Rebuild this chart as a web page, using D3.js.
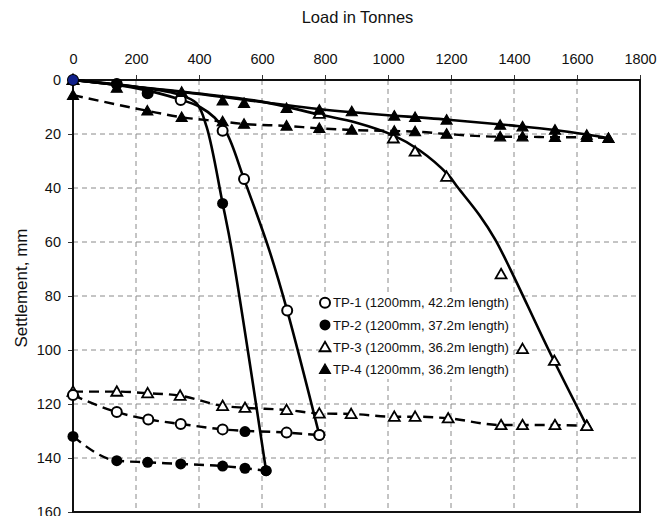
<!DOCTYPE html>
<html>
<head>
<meta charset="utf-8">
<script src="https://cdn.jsdelivr.net/npm/d3@7"></script>
<style>
  html, body { margin: 0; padding: 0; background: #fff; }
  svg { display: block; font-family: "Liberation Sans", Arial, sans-serif; }
</style>
</head>
<body>
<svg id="chart" width="662" height="516"></svg>
<script>
// ---------- data ----------
const xTicks = [0, 200, 400, 600, 800, 1000, 1200, 1400, 1600, 1800];
const yTicks = [0, 20, 40, 60, 80, 100, 120, 140, 160];

// TP-1 (open circles)
const tp1LoadUp   = [0, 139, 237, 342, 475, 543, 680, 782];
const tp1SettleUp = [0, 1.5, 4.9, 7.4, 18.8, 36.7, 85.4, 131.5];
const tp1LoadDn   = [782, 678, 475, 342, 239, 139, 0];
const tp1SettleDn = [131.5, 130.6, 129.4, 127.4, 125.7, 123, 116.7];
const tp1FitLoad   = [0, 200, 340, 403, 450, 488, 543, 623, 680, 782];
const tp1FitSettle = [0, 3, 7.2, 10, 14, 19.7, 36.7, 63, 85.4, 131.5];

// TP-2 (filled circles)
const tp2LoadUp   = [0, 139, 237, 475, 613];
const tp2SettleUp = [0, 1.5, 4.9, 45.7, 144.7];
const tp2LoadDn   = [613, 546, 475, 342, 237, 139, 0];
const tp2SettleDn = [144.7, 143.8, 143, 142.2, 141.6, 141, 132];
const tp2FitLoad   = [0, 200, 340, 392, 424, 475, 504, 613];
const tp2FitSettle = [0, 2.5, 5.5, 8.6, 17.3, 45.7, 63, 144.7];
const tp2ExtraLoad   = [546];
const tp2ExtraSettle = [130.2];

// TP-3 (open triangles)
const tp3LoadUp   = [0, 782, 1017, 1086, 1186, 1359, 1427, 1528, 1631];
const tp3SettleUp = [0, 12.5, 21.6, 26.5, 35.8, 71.9, 99.6, 104, 128.1];
const tp3LoadDn   = [1631, 1530, 1427, 1359, 1191, 1086, 1020, 883, 782, 678, 546, 475, 340, 237, 139, 0];
const tp3SettleDn = [128.1, 127.8, 127.8, 127.8, 125.3, 124.7, 124.7, 123.7, 123.5, 122.2, 121.4, 120.7, 116.9, 116, 115.4, 115.4];
const tp3FitLoad   = [0, 200, 400, 600, 782, 900, 1017, 1100, 1190, 1223, 1290, 1340, 1390, 1510, 1631];
const tp3FitSettle = [0, 2.5, 5, 8, 12.8, 15.8, 20.5, 26, 35, 40, 50, 59, 70.5, 100, 128.1];

// TP-4 (filled triangles)
const tp4LoadUp   = [0, 139, 345, 475, 543, 678, 782, 885, 1020, 1086, 1186, 1356, 1427, 1530, 1631, 1700];
const tp4SettleUp = [0, 3, 4.5, 7.7, 8.6, 10.5, 11.1, 11.7, 13.3, 13.8, 14.8, 16.7, 17.3, 18.5, 20.4, 21.6];
const tp4LoadDn   = [1700, 1631, 1530, 1427, 1356, 1186, 1086, 1020, 885, 782, 678, 543, 475, 345, 236, 0];
const tp4SettleDn = [21.6, 21.2, 21.2, 21, 21, 20, 19.1, 18.9, 18.5, 17.9, 17, 16.3, 15.4, 13.8, 11.4, 5.6];
const tp4FitLoad   = [0, 400, 800, 1200, 1400, 1530, 1631, 1700];
const tp4FitSettle = [0, 5.2, 11, 14.8, 16.9, 18.5, 20.2, 21.6];

const originLoad = [0], originSettle = [0];

const legendLabels = [
  "TP-1 (1200mm, 42.2m length)",
  "TP-2 (1200mm, 37.2m length)",
  "TP-3 (1200mm, 36.2m length)",
  "TP-4 (1200mm, 36.2m length)"
];
const legendMarkers = ["circleOpen", "circleFilled", "triOpen", "triFilled"];

// ---------- layout ----------
const svg = d3.select("#chart");
const L = 73, R = 640, T = 80, B = 512;
const x = d3.scaleLinear().domain([0, 1800]).range([L, R]);
const y = d3.scaleLinear().domain([0, 160]).range([T, B]);

const zip = (a, b) => a.map((v, i) => [v, b[i]]);

// grid
const grid = svg.append("g");
grid.selectAll("line.v").data(xTicks.filter(d => d > 0 && d < 1800)).join("line")
  .attr("x1", d => x(d)).attr("x2", d => x(d)).attr("y1", T).attr("y2", B)
  .attr("stroke", "#8a8a8a").attr("stroke-width", 1).attr("stroke-dasharray", "5,4");
grid.selectAll("line.h").data(yTicks.filter(d => d > 0 && d < 160)).join("line")
  .attr("x1", L).attr("x2", R).attr("y1", d => y(d)).attr("y2", d => y(d))
  .attr("stroke", "#8a8a8a").attr("stroke-width", 1).attr("stroke-dasharray", "5,4");

// axes
const ax = svg.append("g").attr("transform", `translate(0,${T})`)
  .call(d3.axisTop(x).tickValues(xTicks).tickSize(5).tickPadding(11).tickFormat(d3.format("d")));
const ay = svg.append("g").attr("transform", `translate(${L},0)`)
  .call(d3.axisLeft(y).tickValues(yTicks).tickSize(5).tickPadding(7).tickFormat(d3.format("d")));
[ax, ay].forEach(g => {
  g.select(".domain").remove();
  g.selectAll("text").attr("font-size", 14.5).attr("fill", "#111").attr("font-family", "Liberation Sans, Arial, sans-serif");
  g.selectAll("line").attr("stroke", "#333");
});

// frame
svg.append("rect").attr("x", L).attr("y", T).attr("width", R - L).attr("height", B - T)
  .attr("fill", "none").attr("stroke", "#111").attr("stroke-width", 2);

// titles
svg.append("text").attr("x", (L + R) / 2 + 1).attr("y", 23).attr("text-anchor", "middle")
  .attr("font-size", 16.5).attr("fill", "#111").text("Load in Tonnes");
svg.append("text").attr("transform", "translate(27,288) rotate(-90)").attr("text-anchor", "middle")
  .attr("font-size", 17).attr("fill", "#111").text("Settlement, mm");

// lines
const line = d3.line().x(d => x(d[0])).y(d => y(d[1]));
const solid = (pts) => svg.append("path").datum(pts)
  .attr("d", line.curve(d3.curveCatmullRom.alpha(0.5)))
  .attr("fill", "none").attr("stroke", "#000").attr("stroke-width", 2.6);
const dashed = (pts) => svg.append("path").datum(pts)
  .attr("d", line.curve(d3.curveMonotoneX))
  .attr("fill", "none").attr("stroke", "#000").attr("stroke-width", 2.4).attr("stroke-dasharray", "10,6");

dashed(zip(tp1LoadDn, tp1SettleDn).reverse());
dashed(zip(tp2LoadDn, tp2SettleDn).reverse());
dashed(zip(tp3LoadDn, tp3SettleDn).reverse());
dashed(zip(tp4LoadDn, tp4SettleDn).reverse());
solid(zip(tp4FitLoad, tp4FitSettle));
solid(zip(tp3FitLoad, tp3FitSettle));
solid(zip(tp1FitLoad, tp1FitSettle));
solid(zip(tp2FitLoad, tp2FitSettle));

// markers
const tri = d3.symbol().type(d3.symbolTriangle).size(52);
function drawMarker(g, kind, px, py) {
  if (kind === "circleOpen") {
    g.append("circle").attr("cx", px).attr("cy", py).attr("r", 5)
      .attr("fill", "#fff").attr("stroke", "#000").attr("stroke-width", 2);
  } else if (kind === "circleFilled") {
    g.append("circle").attr("cx", px).attr("cy", py).attr("r", 5.5).attr("fill", "#000");
  } else if (kind === "triOpen") {
    g.append("path").attr("d", tri()).attr("transform", `translate(${px},${py + 1})`)
      .attr("fill", "#fff").attr("stroke", "#000").attr("stroke-width", 1.8);
  } else {
    g.append("path").attr("d", tri()).attr("transform", `translate(${px},${py + 1})`)
      .attr("fill", "#000").attr("stroke", "#000").attr("stroke-width", 1.2);
  }
}
const mk = svg.append("g");
function series(loads, settles, kind) {
  loads.forEach((l, i) => drawMarker(mk, kind, x(l), y(settles[i])));
}
series(tp3LoadDn, tp3SettleDn, "triOpen");
series(tp3LoadUp, tp3SettleUp, "triOpen");
series(tp1LoadDn, tp1SettleDn, "circleOpen");
series(tp1LoadUp, tp1SettleUp, "circleOpen");
series(tp2LoadDn, tp2SettleDn, "circleFilled");
series(tp2LoadUp, tp2SettleUp, "circleFilled");
series(tp2ExtraLoad, tp2ExtraSettle, "circleFilled");
series(tp4LoadDn, tp4SettleDn, "triFilled");
series(tp4LoadUp, tp4SettleUp, "triFilled");
svg.append("circle").attr("cx", x(originLoad[0])).attr("cy", y(originSettle[0])).attr("r", 5).attr("fill", "#10208a");

// legend
const lg = svg.append("g");
lg.append("rect").attr("x", 319).attr("y", 292).attr("width", 193).attr("height", 87).attr("fill", "#fff");
legendLabels.forEach((lab, i) => {
  const cy = 302.7 + i * 22.2;
  drawMarker(lg, legendMarkers[i], 325, cy);
  lg.append("text").attr("x", 333).attr("y", cy).attr("dy", "0.36em")
    .attr("font-size", 13.2).attr("fill", "#111").text(lab);
});
</script>
</body>
</html>
